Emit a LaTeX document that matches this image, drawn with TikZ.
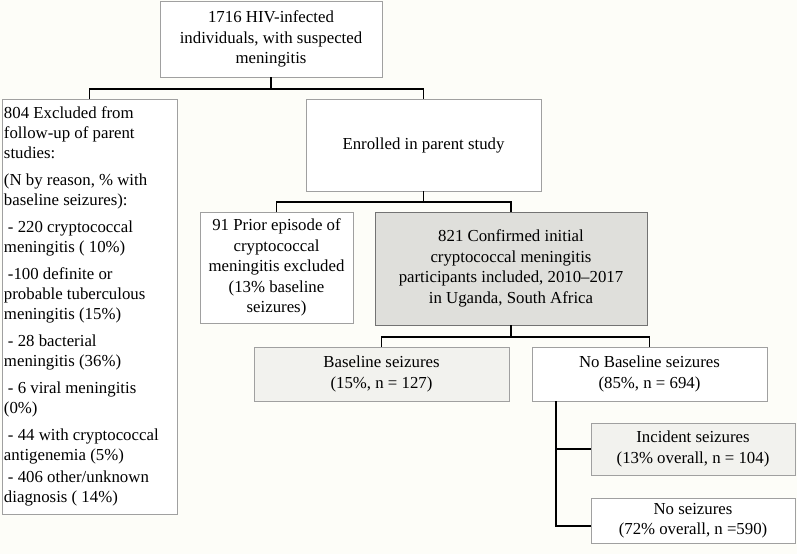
\documentclass[tikz,border=0pt]{standalone}
\usepackage{fontspec}
\setmainfont[Ligatures=TeX]{Liberation Serif}
\newfontfamily\figfont[Ligatures=TeX]{Liberation Serif}
\definecolor{bg}{HTML}{FDFDF8}
\definecolor{boxline}{HTML}{A0A0A0}
\definecolor{darkfill}{HTML}{DFDFDB}
\definecolor{lightfill}{HTML}{F2F2EE}
\begin{document}
\begin{tikzpicture}[x=1pt,y=-1pt,
  box/.style={draw=boxline,line width=0.9pt,fill=white,inner sep=0pt,align=center,
    font=\figfont\fontsize{16.8}{20.5}\selectfont},
  wire/.style={draw=black,line width=1.3pt},
]
\fill[bg] (0,0) rectangle (797,554);
\useasboundingbox (0,0) rectangle (797,554);

\node[box,minimum width=222pt,minimum height=76pt] (top) at (271,39)
  {1716 HIV-infected\\individuals, with suspected\\meningitis};

\node[box,minimum width=175pt,minimum height=415pt,align=left] (excl) at (89.5,306.5)
  {\parbox[c]{171pt}{\raggedright\figfont\fontsize{16.8}{20}\selectfont
  804 Excluded from\\follow-up of parent\\studies:\\[7pt]
  (N by reason, \% with\\baseline seizures):\\[7pt]
  \hspace*{4pt}- 220 cryptococcal\\meningitis ( 10\%)\\[7pt]
  \hspace*{4pt}-100 definite or\\probable tuberculous\\meningitis (15\%)\\[7pt]
  \hspace*{4pt}- 28 bacterial\\meningitis (36\%)\\[7pt]
  \hspace*{4pt}- 6 viral meningitis\\(0\%)\\[7pt]
  \hspace*{4pt}- 44 with cryptococcal\\antigenemia (5\%)\\[2pt]
  \hspace*{4pt}- 406 other/unknown\\diagnosis ( 14\%)}};

\node[box,minimum width=235pt,minimum height=92pt] (enr) at (423.5,145)
  {Enrolled in parent study};

\node[box,minimum width=153pt,minimum height=111pt] (prior) at (276.5,267.5)
  {91 Prior episode of\\cryptococcal\\meningitis excluded\\(13\% baseline\\seizures)};

\node[box,draw=black!55,fill=darkfill,minimum width=272pt,minimum height=113pt] (conf) at (511,268.5)
  {821 Confirmed initial\\cryptococcal meningitis\\participants included, 2010--2017\\in Uganda, South Africa};

\node[box,fill=lightfill,minimum width=255pt,minimum height=54pt] (base) at (381.5,374)
  {Baseline seizures\\(15\%, n = 127)};

\node[box,minimum width=235pt,minimum height=54pt] (nobase) at (649.5,374)
  {No Baseline seizures\\(85\%, n = 694)};

\node[box,fill=lightfill,minimum width=204pt,minimum height=52pt] (inc) at (693,449)
  {Incident seizures\\(13\% overall, n = 104)};

\node[box,minimum width=204pt,minimum height=45pt] (nos) at (693,520.5)
  {No seizures\\(72\% overall, n =590)};

% connectors
\coordinate (j1) at (271,89);
\draw[wire] (top.south) -- (j1);
\draw[wire] (j1) -| (excl.north);
\draw[wire] (j1) -| (enr.north);

\coordinate (j2) at (423.5,202);
\draw[wire] (enr.south) -- (j2);
\draw[wire] (j2) -| (prior.north);
\draw[wire] (j2) -| (conf.north);

\coordinate (j3) at (511,337);
\draw[wire] (conf.south) -- (j3);
\draw[wire] (j3) -| (base.north);
\draw[wire] (j3) -| (nobase.north);

\coordinate (s) at (556,401);
\coordinate (e1) at (556,526);
\draw[wire] (s) -- (e1) -- (e1 -| nos.west);
\draw[wire] (inc.west -| s) -- (inc.west);
\end{tikzpicture}
\end{document}
